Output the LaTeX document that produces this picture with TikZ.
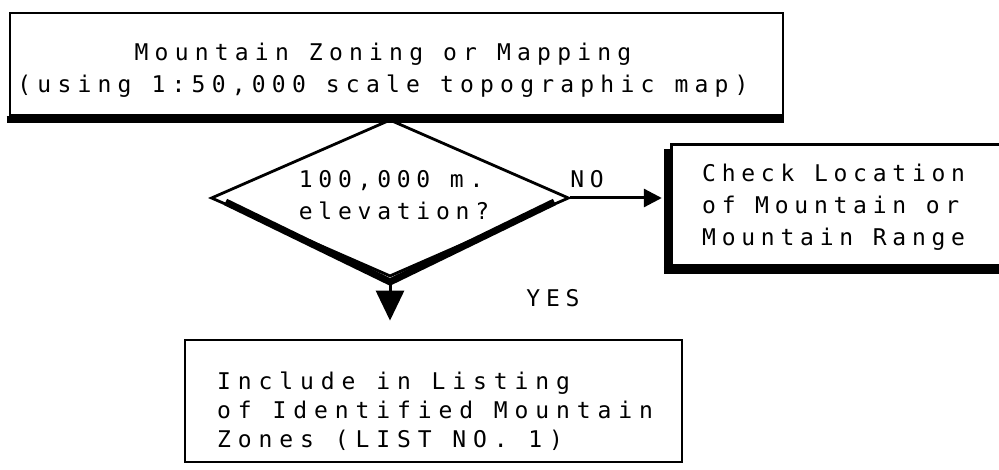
\documentclass[tikz,border=0pt]{standalone}
\usepackage{fontspec}
\setmonofont{DejaVu Sans Mono}[LetterSpace=25]
\usetikzlibrary{shapes.geometric,arrows.meta}
\begin{document}
\begin{tikzpicture}[x=1pt,y=-1pt,
  boxline/.style={draw,line width=2.8pt,inner sep=0pt},
  txt/.style={font=\ttfamily\fontsize{23}{32}\selectfont,inner sep=0pt},
  shadowbar/.style={line width=7pt},
  flow/.style={line width=3pt}]
\useasboundingbox[fill=white] (0,0) rectangle (999,470);

% top box
\node[boxline,minimum width=773pt,minimum height=102pt] (map) at (396.5,64) {};
\draw[shadowbar] ([shift={(-2,3)}]map.south west) -- ([shift={(0,3)}]map.south east);
\node[txt,align=center,font=\ttfamily\fontsize{23}{32}\selectfont\addfontfeature{LetterSpace=27}] (maptxt) at (383,70) {Mountain Zoning or Mapping\\(using 1:50,000 scale topographic map)};

% decision diamond
\node[diamond,boxline,minimum width=358pt,minimum height=157pt] (dec) at (390,198) {};
\draw[shadowbar,line join=round] ([shift={(16,4)}]dec.west) -- ([shift={(0,4)}]dec.south) -- ([shift={(-16,4)}]dec.east);
\node[txt,align=left] (dectxt) at (394,195) {100,000 m.\\elevation?};
\node[txt] (no) at (587,179) {NO};

% check box (open to the right)
\node[minimum width=333pt,minimum height=120pt,inner sep=0pt] (chk) at (838.5,205) {};
\draw[line width=2.8pt] (chk.north east) -- (chk.north west) -- (chk.south west) -- (chk.south east);
\draw[shadowbar] ([shift={(-4,4)}]chk.north west) -- ([shift={(-4,8)}]chk.south west);
\draw[shadowbar] ([shift={(-8,5)}]chk.south west) -- ([shift={(0,5)}]chk.south east);
\node[txt,align=left,anchor=west] (chktxt) at (702,207) {Check Location\\of Mountain or\\Mountain Range};

% listing box
\node[boxline,minimum width=497pt,minimum height=122pt] (lst) at (433.5,401) {};
\node[txt,align=left,anchor=west,font=\ttfamily\fontsize{23}{29}\selectfont\addfontfeature{LetterSpace=30}] (lsttxt) at (217,411) {Include in Listing\\of Identified Mountain\\Zones (LIST NO. 1)};
\node[txt] (yes) at (553,298) {YES};

% connectors
\draw[flow,-{Triangle[length=18pt,width=18pt]}] (dec.east) -- (dec.east -| chk.west) [shorten >=10pt];
\draw[flow,-{Triangle[length=30pt,width=28pt]},shorten >=18pt] (dec.south) -- (dec.south |- lst.north);
\end{tikzpicture}
\end{document}
